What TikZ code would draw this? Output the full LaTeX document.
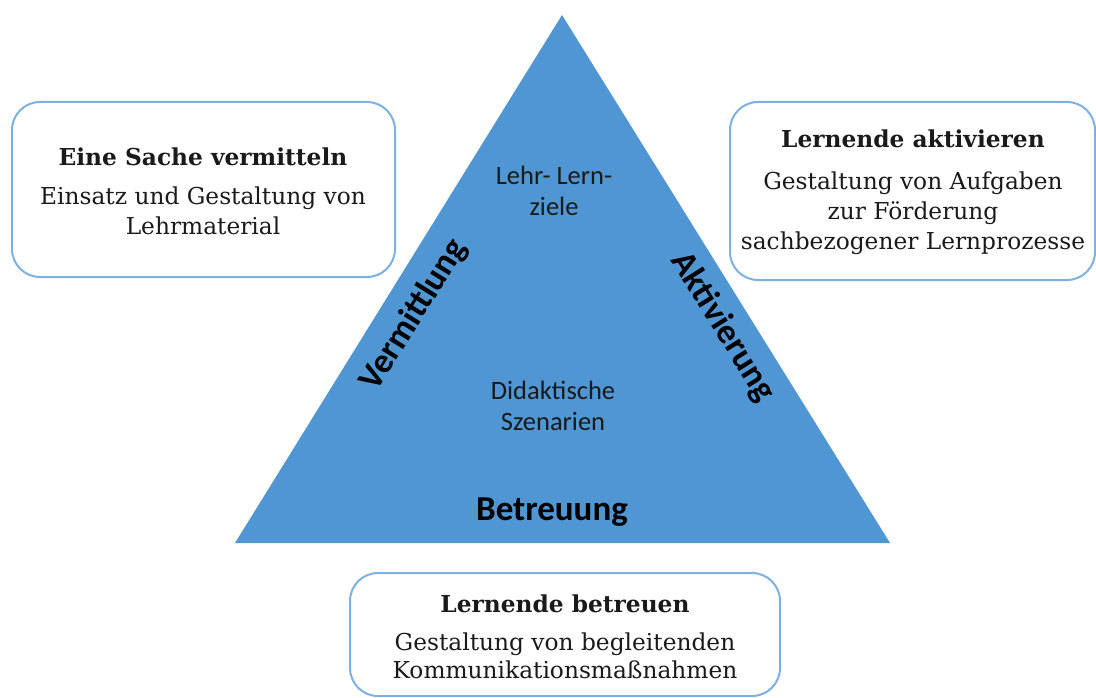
\documentclass[tikz,border=0pt]{standalone}
\usepackage{fontspec}
\setmainfont{DejaVu Serif}
\newfontfamily\calib{Carlito}
\definecolor{tri}{HTML}{4F96D2}
\definecolor{boxline}{HTML}{7DB1E0}
\definecolor{txt}{HTML}{1A1A1A}
\begin{document}
\begin{tikzpicture}[x=1pt,y=-1pt,
  infobox/.style={draw=boxline,line width=2pt,rounded corners=28pt,fill=white},
  boxtext/.style={align=center,font=\fontsize{23.3}{30}\selectfont,text=txt},
  tritext/.style={align=center,font=\calib\fontsize{26.5}{31}\selectfont,text=txt},
  sidetext/.style={font=\calib\bfseries\fontsize{35}{37}\selectfont,text=black}]
\useasboundingbox (0,0) rectangle (1096,698);
\fill[white] (0,0) rectangle (1096,698);
% triangle
\coordinate (apex) at (562,15);
\coordinate (bl) at (235,543);
\coordinate (br) at (890,543);
\fill[tri] (apex) -- (br) -- (bl) -- cycle;
% boxes
\draw[infobox] (12,102) rectangle (395,277);
\draw[infobox] (730,102) rectangle (1095,280);
\draw[infobox] (350,573) rectangle (780,696);
\node[boxtext] (lefttxt) at (203,191) {\textbf{Eine Sache vermitteln}\\[9pt]Einsatz und Gestaltung von\\Lehrmaterial};
\node[boxtext] (righttxt) at (913,192) {\textbf{Lernende aktivieren}\\[12pt]Gestaltung von Aufgaben\\zur Förderung\\sachbezogener Lernprozesse};
\node[boxtext] (bottxt) at (565,637) {\textbf{Lernende betreuen}\\[8pt]Gestaltung von begleitenden\\[-2pt]Kommunikationsmaßnahmen};
% triangle texts
\node[tritext] (ziele) at (554,191) {Lehr- Lern-\\ziele};
\node[tritext] (szen) at (553,406) {Didaktische\\Szenarien};
\node[sidetext] (betr) at (552,512) {Betreuung};
\node[sidetext,rotate=58] (verm) at (414,315) {Vermittlung};
\node[sidetext,rotate=-58] (akt) at (723,327) {Aktivierung};
\end{tikzpicture}
\end{document}
